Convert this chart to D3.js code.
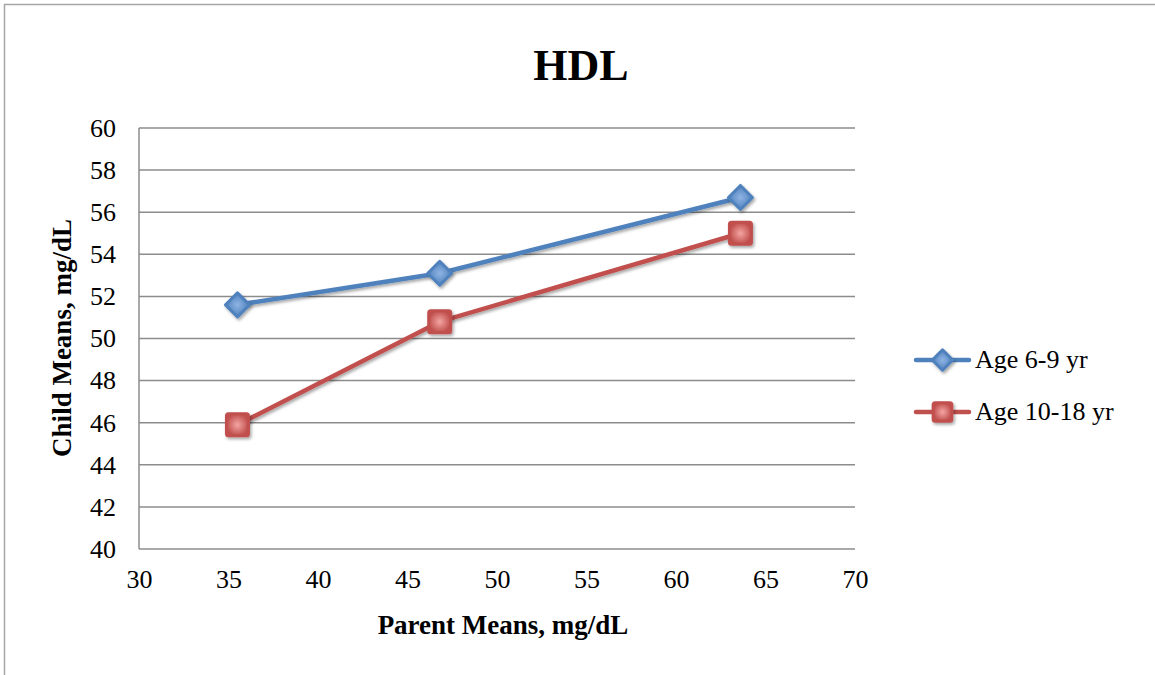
<!DOCTYPE html>
<html><head><meta charset="utf-8">
<script src="https://cdn.jsdelivr.net/npm/d3@7"></script>
<style>body{margin:0;background:#fff;} text{font-family:"Liberation Serif","DejaVu Serif",serif;}</style>
</head><body>
<svg id="c" width="1155" height="675"></svg>
<script>
const title = "HDL";
const xLabel = "Parent Means, mg/dL";
const yLabel = "Child Means, mg/dL";
const parentMeans = [35.5, 46.8, 63.6];
const age6to9 = [51.6, 53.1, 56.7];
const age10to18 = [45.9, 50.8, 55.0];
const seriesNames = ["Age 6-9 yr", "Age 10-18 yr"];
const xTicks = [30, 35, 40, 45, 50, 55, 60, 65, 70];
const yTicks = [40, 42, 44, 46, 48, 50, 52, 54, 56, 58, 60];

const svg = d3.select("#c");
svg.append("rect").attr("x",4.5).attr("y",4.5).attr("width",1170).attr("height",700)
  .attr("fill","none").attr("stroke","#a6a6a6").attr("stroke-width",1.5);

const x = d3.scaleLinear().domain([30,70]).range([139,855]);
const y = d3.scaleLinear().domain([40,60]).range([549,128]);

svg.append("g").selectAll("line").data(yTicks).join("line")
  .attr("x1",139).attr("x2",855).attr("y1",d=>y(d)).attr("y2",d=>y(d))
  .attr("stroke","#8c8c8c").attr("stroke-width",1.5);
svg.append("line").attr("x1",139).attr("x2",139).attr("y1",y(60)).attr("y2",y(40))
  .attr("stroke","#8c8c8c").attr("stroke-width",1.5);

const yAxis = svg.append("g").attr("transform","translate(139,0)")
  .call(d3.axisLeft(y).tickValues(yTicks).tickSize(0).tickPadding(23));
yAxis.select(".domain").remove();
yAxis.selectAll("text").attr("font-size",26).attr("fill","#000").attr("font-family","Liberation Serif");
const xAxis = svg.append("g").attr("transform","translate(0,549)")
  .call(d3.axisBottom(x).tickValues(xTicks).tickSize(0).tickPadding(21));
xAxis.select(".domain").remove();
xAxis.selectAll("text").attr("font-size",26).attr("fill","#000").attr("font-family","Liberation Serif");

svg.append("text").attr("x",581).attr("y",80).attr("text-anchor","middle")
  .attr("font-size",44).attr("font-weight","bold").text(title);
svg.append("text").attr("x",503).attr("y",634).attr("text-anchor","middle")
  .attr("font-size",27).attr("font-weight","bold").text(xLabel);
svg.append("text").attr("transform","translate(71,338) rotate(-90)").attr("text-anchor","middle")
  .attr("font-size",27).attr("font-weight","bold").text(yLabel);

const defs = svg.append("defs");
const f = defs.append("filter").attr("id","sh").attr("x","-50%").attr("y","-50%").attr("width","200%").attr("height","200%");
f.append("feDropShadow").attr("dx",1.5).attr("dy",2).attr("stdDeviation",1.5).attr("flood-color","#000").attr("flood-opacity",0.35);
function grad(id,c1,c2){
  const g = defs.append("radialGradient").attr("id",id);
  g.append("stop").attr("offset","0%").attr("stop-color",c1);
  g.append("stop").attr("offset","100%").attr("stop-color",c2);
}
grad("gb","#8fb4e3","#4f81bd");
grad("gr","#f4a5a3","#c0504d");

const series = [
  {name:seriesNames[0], vals:age6to9, color:"#4f81bd", fill:"url(#gb)", shape:"diamond"},
  {name:seriesNames[1], vals:age10to18, color:"#c0504d", fill:"url(#gr)", shape:"square"}
];
const line = d3.line().x(d=>x(d[0])).y(d=>y(d[1]));
function marker(g, cx, cy, s, scale){
  if(s.shape==="diamond"){
    const r = 12*scale;
    g.append("path").attr("d",`M${cx},${cy-r}L${cx+r},${cy}L${cx},${cy+r}L${cx-r},${cy}Z`)
      .attr("fill",s.fill).attr("stroke",s.color).attr("stroke-width",3).attr("stroke-linejoin","round").attr("filter","url(#sh)");
  } else {
    const h = 11*scale;
    g.append("rect").attr("x",cx-h).attr("y",cy-h).attr("width",2*h).attr("height",2*h).attr("rx",2)
      .attr("fill",s.fill).attr("stroke",s.color).attr("stroke-width",3).attr("filter","url(#sh)");
  }
}
series.forEach(s=>{
  const pts = parentMeans.map((p,i)=>[p,s.vals[i]]);
  svg.append("path").datum(pts).attr("d",line).attr("fill","none")
    .attr("stroke",s.color).attr("stroke-width",4.5).attr("stroke-linejoin","round").attr("filter","url(#sh)");
  const g = svg.append("g");
  pts.forEach(p=>marker(g, x(p[0]), y(p[1]), s, 1));
});

series.forEach((s,i)=>{
  const ly = 360 + i*52;
  svg.append("line").attr("x1",916).attr("x2",969).attr("y1",ly).attr("y2",ly)
    .attr("stroke",s.color).attr("stroke-width",4.5).attr("stroke-linecap","round");
  marker(svg, 942.5, ly, s, 0.85);
  svg.append("text").attr("x",975).attr("y",ly+8).attr("font-size",26).text(s.name);
});
</script>
</body></html>
